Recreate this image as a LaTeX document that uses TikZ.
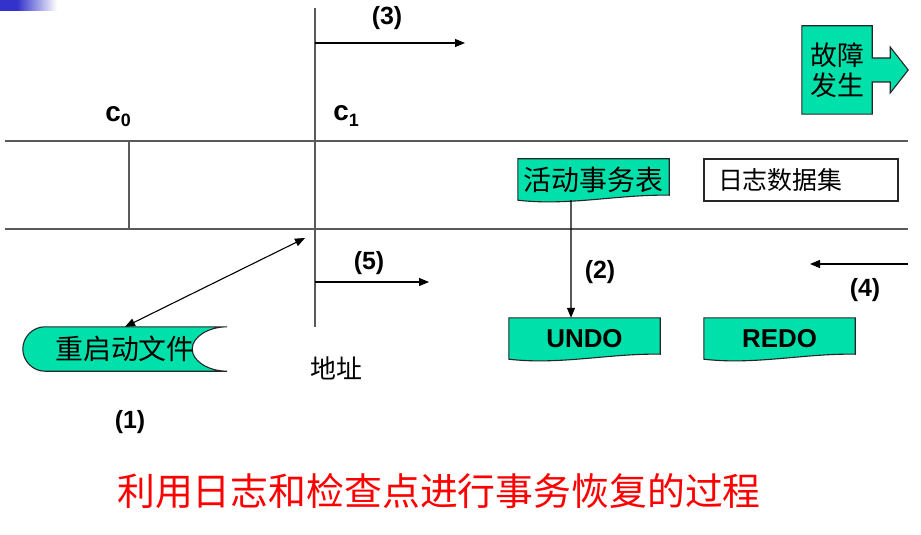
\documentclass[tikz,border=0pt]{standalone}
\usepackage{fontspec}
\setmainfont{Liberation Sans}
\newfontfamily\cjk{Noto Sans CJK SC}
\usetikzlibrary{arrows.meta, positioning, backgrounds, calc}
\definecolor{mint}{RGB}{0,224,170}
\definecolor{barblue}{RGB}{51,51,204}
\definecolor{rulegray}{RGB}{90,90,90}

\begin{document}
\begin{tikzpicture}[
    x=1bp, y=-1bp,
    arrow/.style={-{Triangle[length=10bp, width=8bp]}, line width=1.1bp},
    dblarrow/.style={{Triangle[length=10bp, width=8bp]}-{Triangle[length=10bp, width=8bp]}, line width=1.1bp},
    timeline/.style={draw=rulegray, line width=1.8bp},
    ckline/.style={draw=rulegray, line width=1.2bp},
    doc/.style={rectangle, minimum width=151bp, minimum height=41bp, inner sep=0pt},
    docline/.style={draw=black!85, fill=mint, line width=1.1bp},
    num/.style={font=\bfseries\fontsize{25}{30}\selectfont},
    zh/.style={font=\cjk\fontsize{28}{32}\selectfont},
]
\useasboundingbox (0,0) rectangle (921,535);

% corner bar
\fill[barblue] (0,0) rectangle (17,11);
\shade[left color=barblue, right color=white] (17,0) rectangle (57,11);

% time lines and checkpoints
\draw[timeline] (5,141) -- (908,141);
\draw[timeline] (5,229) -- (908,229);
\draw[ckline] (129,141) -- (129,229);
\draw[ckline] (315,8) -- (315,327);

\node[num, font=\bfseries\fontsize{28}{30}\selectfont, anchor=base] (c0) at (118,122) {c\raisebox{-5bp}{\fontsize{18}{18}\selectfont 0}};
\node[num, font=\bfseries\fontsize{28}{30}\selectfont, anchor=base] (c1) at (346,121) {c\raisebox{-6bp}{\fontsize{18}{18}\selectfont 1}};

% boxes
\node[doc, zh] (act) at (593.5,179.5) {活动事务表};
\node[draw=black!85, fill=white, line width=1.1bp, minimum height=42bp, text width=166bp,
      inner xsep=14bp, inner ysep=0pt, align=left, font=\cjk\fontsize{25}{28}\selectfont] (log) at (801,180) {日志数据集};
\node[doc, num, font=\bfseries\fontsize{26}{30}\selectfont] (undo) at (584.5,338.5) {UNDO};
\node[doc, num, font=\bfseries\fontsize{26}{30}\selectfont] (redo) at (779.5,338.5) {REDO};
\node[minimum width=204bp, minimum height=44bp, inner sep=0pt, zh] (restart) at (125,349) {重启动文件};
\node[minimum width=70bp, minimum height=88bp, inner sep=0pt, align=center,
      font=\cjk\fontsize{27}{30}\selectfont] (fault) at (837,70) {故障\\发生};
\node[zh, font=\cjk\fontsize{26}{30}\selectfont] (addr) at (336,368) {地址};

\begin{scope}[on background layer]
\foreach \n in {act, undo, redo}
  \draw[docline] (\n.south west) -- (\n.north west) -- (\n.north east) -- ([yshift=5bp]\n.south east)
    .. controls +(-50,-1) and +(51,6) .. (\n.south west) -- cycle;
\draw[docline] (restart.north east) -- ([xshift=22bp]restart.north west)
    .. controls +(-12,0) and +(0,-12) .. (restart.west)
    .. controls +(0,12) and +(-12,0) .. ([xshift=22bp]restart.south west) -- (restart.south east)
    .. controls +(-19,0) and +(0,12) .. ([xshift=-35bp]restart.east)
    .. controls +(0,-12) and +(-19,0) .. (restart.north east) -- cycle;
\draw[docline] (fault.north west) -- (fault.north east) -- ([yshift=12bp]fault.east) -- ++(18,0) -- ++(0,-11)
    -- ++(18,23) -- ++(-18,23) -- ++(0,-11) -- ++(-18,0) -- (fault.south east) -- (fault.south west) -- cycle;
\end{scope}

% arrows
\coordinate (cp) at (305,238);
\coordinate (s3) at (315,43);
\coordinate (e3) at (465,43);
\coordinate (s5) at (315,282);
\coordinate (e5) at (429,282);
\coordinate (s4) at (908,264);
\coordinate (e4) at (810,264);

\draw[dblarrow] (restart.north) -- (cp);
\draw[arrow] ([xshift=-22.5bp]act.south) -- ([xshift=-13.5bp]undo.north);
\draw[arrow] (s3) -- (e3);
\draw[arrow] (s5) -- (e5);
\draw[arrow] (s4) -- (e4);

% step labels
\node[num] (l1) at (130,422) {(1)};
\node[num] (l2) at (600,272) {(2)};
\node[num] (l3) at (387,18) {(3)};
\node[num] (l4) at (865,290) {(4)};
\node[num] (l5) at (369,263) {(5)};

\node[font=\cjk\fontsize{38}{42}\selectfont, text=red] (title) at (439,491) {利用日志和检查点进行事务恢复的过程};

\end{tikzpicture}
\end{document}
